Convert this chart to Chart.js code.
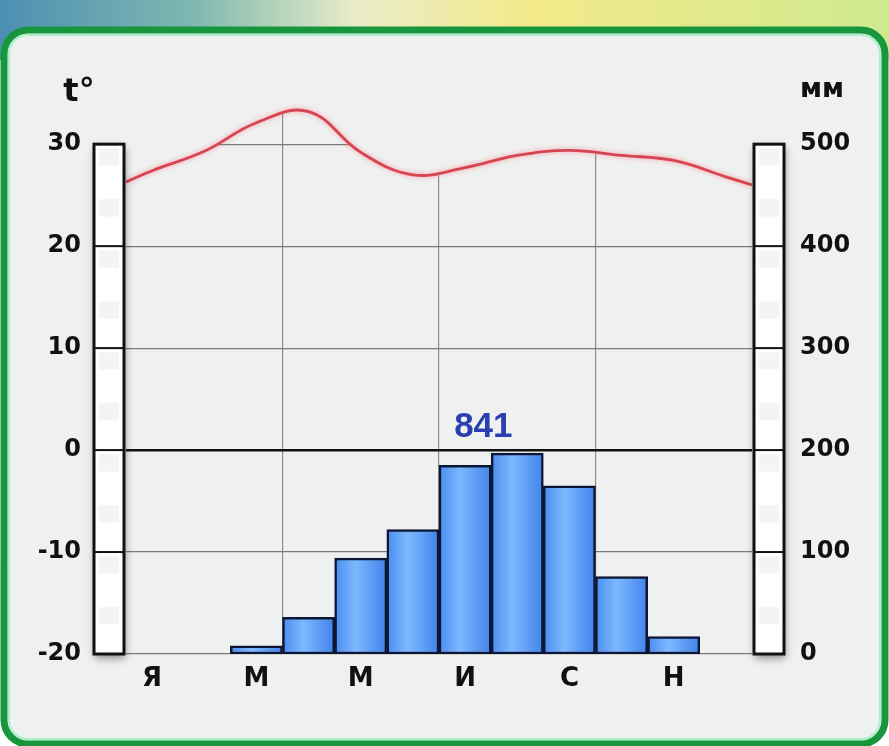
<!DOCTYPE html>
<html>
<head>
<meta charset="utf-8">
<script src="https://cdn.jsdelivr.net/npm/chart.js@4.4.1/dist/chart.umd.min.js"></script>
<style>
  html, body { margin: 0; padding: 0; background: #fff; }
  #wrap { width: 889px; height: 746px; position: relative; }
</style>
</head>
<body>
<div id="wrap"><canvas id="klimat"></canvas></div>
<script>
// Климатограмма: температура (линия) и осадки (столбики)
const months = ['Я', 'Ф', 'М', 'А', 'М', 'И', 'И', 'А', 'С', 'О', 'Н', 'Д'];
const precip = [0, 0, 8, 36, 94, 122, 185, 197, 165, 76, 17, 0];          // мм
const temps = [27.4, 29.3, 32.1, 33.2, 29.2, 27.0, 27.7, 28.9, 29.4, 28.9, 28.4, 26.8]; // t°
const tempEdges = [26.3, 26.0];   // значение кривой на краях года
const tempTicks = [-20, -10, 0, 10, 20, 30];
const precipTicks = [0, 100, 200, 300, 400, 500];
const annualTotal = 841;

const BG = '#eff1f1';
const FONT = '"DejaVu Sans", Verdana, sans-serif';

// Точки кривой температуры: середины месяцев + края
const tempPoints = [{ x: 0, y: tempEdges[0] }]
  .concat(temps.map((t, i) => ({ x: i + 0.5, y: t })))
  .concat([{ x: 12, y: tempEdges[1] }]);

/* Фон: цветная полоса сверху и зелёная рамка */
const fonPlugin = {
  id: 'fon',
  beforeDraw(chart) {
    const ctx = chart.ctx, W = chart.width, H = chart.height;
    ctx.save();
    ctx.fillStyle = '#ffffff';
    ctx.fillRect(0, 0, W, H);
    const g = ctx.createLinearGradient(0, 0, W, 0);
    g.addColorStop(0, '#4d8fb2');
    g.addColorStop(0.22, '#7fb8b0');
    g.addColorStop(0.4, '#e9ecc8');
    g.addColorStop(0.6, '#f3ea8a');
    g.addColorStop(1, '#cfe98e');
    ctx.fillStyle = g;
    ctx.fillRect(0, 0, W, 60);

    // рамка
    const x = 4, y = 30, w = W - 8, h = H - 32, r = 24;
    ctx.beginPath();
    ctx.roundRect(x, y, w, h, r);
    ctx.fillStyle = BG;
    ctx.fill();
    ctx.lineWidth = 7;
    ctx.strokeStyle = '#17963d';
    ctx.stroke();
    ctx.beginPath();
    ctx.roundRect(x + 5, y + 5, w - 10, h - 10, r - 5);
    ctx.lineWidth = 2;
    ctx.strokeStyle = '#a8f0c8';
    ctx.stroke();
    ctx.restore();
  }
};

/* Лёгкое розовое свечение вокруг кривой температуры */
const glowPlugin = {
  id: 'glow',
  beforeDatasetDraw(chart, args) {
    if (args.index !== 0) return;
    chart.ctx.save();
    chart.ctx.shadowColor = 'rgba(255,110,120,0.7)';
    chart.ctx.shadowBlur = 5;
  },
  afterDatasetDraw(chart, args) {
    if (args.index !== 0) return;
    chart.ctx.restore();
  }
};

/* Полосатые шкалы по бокам, подписи t°, мм и сумма осадков */
function drawColumn(ctx, x0, x1, ys) {
  const top = ys.getPixelForValue(30), bottom = ys.getPixelForValue(-20);
  ctx.save();
  ctx.shadowColor = 'rgba(0,0,0,0.45)';
  ctx.shadowBlur = 8;
  ctx.shadowOffsetX = 1;
  ctx.shadowOffsetY = 4;
  ctx.fillStyle = '#ffffff';
  ctx.fillRect(x0, top, x1 - x0, bottom - top);
  ctx.restore();

  ctx.save();
  ctx.fillStyle = 'rgba(0,0,0,0.045)';
  for (let v = -20; v < 30; v += 2.5) {
    if (Math.round(v / 2.5) % 2 === 0) continue;
    const a = ys.getPixelForValue(v + 2.5), b = ys.getPixelForValue(v);
    ctx.fillRect(x0 + 5, a + 4, x1 - x0 - 10, b - a - 8);
  }
  ctx.strokeStyle = '#111';
  ctx.lineWidth = 2;
  tempTicks.slice(1, -1).forEach(v => {
    const py = ys.getPixelForValue(v);
    ctx.beginPath();
    ctx.moveTo(x0, py);
    ctx.lineTo(x1, py);
    ctx.stroke();
  });
  ctx.lineWidth = 3;
  ctx.strokeRect(x0, top, x1 - x0, bottom - top);
  ctx.restore();
}

const shkalaPlugin = {
  id: 'shkala',
  afterDraw(chart) {
    const ctx = chart.ctx, a = chart.chartArea, ys = chart.scales.y;
    drawColumn(ctx, a.left - 32, a.left - 2, ys);
    drawColumn(ctx, a.right + 2, a.right + 32, ys);

    ctx.save();
    ctx.fillStyle = '#111';
    ctx.textBaseline = 'alphabetic';
    ctx.textAlign = 'center';
    ctx.font = 'bold 32px ' + FONT;
    ctx.fillText('t°', 79, 101);
    ctx.font = 'bold 27px ' + FONT;
    ctx.fillText('мм', 822, 97);

    ctx.fillStyle = '#2b3fb0';
    ctx.font = 'bold 35px "Liberation Sans", Arial, sans-serif';
    ctx.fillText(String(annualTotal), chart.scales.xt.getPixelForValue(6.85), 437);
    ctx.restore();
  }
};

function barGradient(c) {
  const chart = c.chart, xs = chart.scales.x;
  if (!xs || c.dataIndex === undefined || !chart.chartArea) return '#4d94f2';
  const w = xs.width / months.length;
  const cx = xs.getPixelForValue(c.dataIndex);
  const g = chart.ctx.createLinearGradient(cx - w / 2, 0, cx + w / 2, 0);
  g.addColorStop(0, '#4a8cf0');
  g.addColorStop(0.4, '#7cb9ff');
  g.addColorStop(1, '#4282ea');
  return g;
}

new Chart(document.getElementById('klimat'), {
  data: {
    labels: months,
    datasets: [
      {
        type: 'line',
        label: 't°',
        data: tempPoints,
        xAxisID: 'xt',
        yAxisID: 'y',
        borderColor: '#d64652',
        borderWidth: 2.8,
        tension: 0.4,
        pointRadius: 0,
        fill: 'end',
        backgroundColor: BG,
        order: 1
      },
      {
        type: 'bar',
        label: 'мм',
        data: precip,
        xAxisID: 'x',
        yAxisID: 'y1',
        grouped: false,
        backgroundColor: barGradient,
        borderColor: '#0d1734',
        borderWidth: 2.5,
        borderSkipped: false,
        barPercentage: 1,
        categoryPercentage: 1,
        order: 2
      }
    ]
  },
  options: {
    responsive: true,
    maintainAspectRatio: false,
    animation: false,
    layout: { padding: { top: 83, left: 0, right: 0, bottom: 0 } },
    plugins: {
      legend: { display: false },
      tooltip: { enabled: false }
    },
    scales: {
      x: {
        type: 'category',
        offset: true,
        afterFit: s => { s.height = 92; },
        border: { display: false },
        grid: {
          offset: true,
          drawTicks: false,
          color: c => (c.index % 3 === 0 && c.index > 0 && c.index < 12) ? '#8c8c8c' : 'rgba(0,0,0,0)',
          lineWidth: 1.2
        },
        ticks: {
          autoSkip: false,
          maxRotation: 0,
          padding: 10,
          color: '#111',
          font: { family: FONT, weight: 'bold', size: 26 },
          callback: (v, i) => i % 2 === 0 ? months[i] : ''
        }
      },
      xt: {
        type: 'linear',
        display: false,
        min: 0,
        max: 12
      },
      y: {
        position: 'left',
        min: -20,
        max: 36,
        afterFit: s => { s.width = 126; },
        afterBuildTicks: s => { s.ticks = tempTicks.map(v => ({ value: v })); },
        border: { display: false },
        grid: {
          drawTicks: false,
          color: c => c.tick && c.tick.value === 0 ? '#111' : '#7a7a7a',
          lineWidth: c => c.tick && c.tick.value === 0 ? 2.5 : 1.2
        },
        ticks: {
          padding: 45,
          color: '#111',
          font: { family: FONT, weight: 'bold', size: 24 }
        }
      },
      y1: {
        position: 'right',
        min: 0,
        max: 560,
        afterFit: s => { s.width = 137; },
        afterBuildTicks: s => { s.ticks = precipTicks.map(v => ({ value: v })); },
        border: { display: false },
        grid: { display: false, drawTicks: false },
        ticks: {
          padding: 48,
          color: '#111',
          font: { family: FONT, weight: 'bold', size: 24 }
        }
      }
    }
  },
  plugins: [fonPlugin, glowPlugin, shkalaPlugin]
});
</script>
</body>
</html>
